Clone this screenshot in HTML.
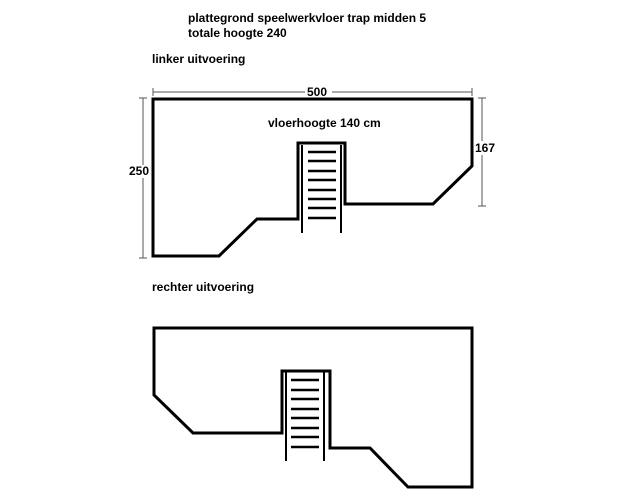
<!DOCTYPE html>
<html><head><style>body{margin:0;background:#fff}svg{display:block}text{font-family:"Liberation Sans",Arial,sans-serif;font-weight:bold;font-size:12px;fill:#000}</style></head>
<body>
<svg width="620" height="502" viewBox="0 0 620 502">
<text x="188" y="22">plattegrond speelwerkvloer trap midden 5</text>
<text x="188" y="37">totale hoogte 240</text>
<text x="152" y="63">linker uitvoering</text>
<text x="152" y="291">rechter uitvoering</text>
<g stroke="#555" stroke-width="1" fill="none">
<line x1="153" y1="92" x2="305" y2="92"/><line x1="332" y1="92" x2="472" y2="92"/>
<line x1="153" y1="88" x2="153" y2="96"/><line x1="472" y1="88" x2="472" y2="96"/>
<line x1="143" y1="98" x2="143" y2="165"/><line x1="143" y1="178" x2="143" y2="258"/>
<line x1="139" y1="98" x2="147" y2="98"/><line x1="139" y1="258" x2="147" y2="258"/>
<line x1="482" y1="98" x2="482" y2="206"/>
<line x1="478" y1="98" x2="486" y2="98"/><line x1="478" y1="206" x2="486" y2="206"/>
</g>
<rect x="474" y="141" width="24" height="14" fill="#fff"/>
<text x="307" y="96">500</text>
<text x="129" y="175">250</text>
<text x="475" y="152">167</text>
<text x="268" y="127">vloerhoogte 140 cm</text>
<g stroke="#000" stroke-width="3" fill="none" stroke-linejoin="miter">
<polygon points="153,99 472,99 472,166 433,204 345,204 345,143 298,143 298,219 257,219 219,256 153,256"/>
<polygon points="154,328 472,328 472,487 408,487 370,448 330,448 330,371 282,371 282,433 193,433 154,395"/>
</g>
<g stroke="#000" stroke-width="2">
<line x1="302" y1="145" x2="302" y2="233"/><line x1="341" y1="145" x2="341" y2="233"/>
<line x1="286" y1="372" x2="286" y2="461"/><line x1="324" y1="372" x2="324" y2="461"/>
</g>
<g stroke="#000" stroke-width="2.5">
<line x1="308" y1="152" x2="336" y2="152"/><line x1="308" y1="161" x2="336" y2="161"/><line x1="308" y1="171" x2="336" y2="171"/><line x1="308" y1="180" x2="336" y2="180"/><line x1="308" y1="190" x2="336" y2="190"/><line x1="308" y1="199" x2="336" y2="199"/><line x1="308" y1="208" x2="336" y2="208"/><line x1="308" y1="218" x2="336" y2="218"/>
<line x1="291" y1="380" x2="319" y2="380"/><line x1="291" y1="390" x2="319" y2="390"/><line x1="291" y1="399" x2="319" y2="399"/><line x1="291" y1="409" x2="319" y2="409"/><line x1="291" y1="418" x2="319" y2="418"/><line x1="291" y1="428" x2="319" y2="428"/><line x1="291" y1="437" x2="319" y2="437"/><line x1="291" y1="447" x2="319" y2="447"/>
</g>
</svg>
</body></html>
